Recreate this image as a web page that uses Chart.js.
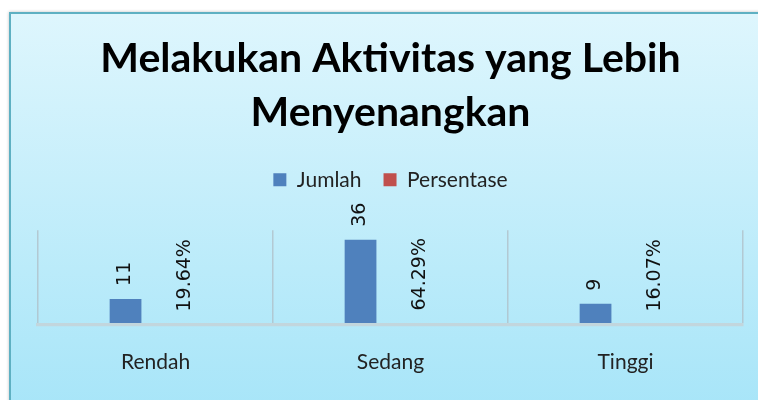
<html>
<head>
<style>
body {
    margin: 0;
    background-color: white;
    overflow: hidden;
}
div.chart-frame {
    position: absolute;
    left: 9px;
    top: 12px;
    width: 790px;
    height: 420px;
    border: 2.5px solid #5eb0c2;
    box-shadow: 0px 0px 3px rgba(0,0,0,0.25);
    background: linear-gradient(#def6fd, #a4e4f8);
}
canvas#myChart {
    position: absolute;
    left: 0;
    top: 0;
}
</style>
<script src="https://cdn.jsdelivr.net/npm/chart.js"></script>
</head>
<body>
<div class="chart-frame"></div>
<canvas id="myChart" width="780" height="400"></canvas>

<script>
const chartTitle = ['Melakukan Aktivitas yang Lebih', 'Menyenangkan'];
const categories = ['Rendah', 'Sedang', 'Tinggi'];
const jumlah = [11, 36, 9];
const persentase = [0.1964, 0.6429, 0.1607];

// labels on top of the bars, turned upright like in excel
const valueLabels = {
    id: 'valueLabels',
    afterDatasetsDraw(chart) {
        const ctx = chart.ctx;
        chart.data.datasets.forEach((ds, i) => {
            const meta = chart.getDatasetMeta(i);
            meta.data.forEach((bar, j) => {
                let text = ds.data[j];
                if (i == 1) text = (ds.data[j] * 100).toFixed(2) + '%';
                ctx.save();
                ctx.translate(bar.x, bar.y - 13);
                ctx.rotate(-Math.PI / 2);
                ctx.font = '19px "DejaVu Sans"';
                ctx.fillStyle = '#111';
                ctx.textAlign = 'left';
                ctx.textBaseline = 'middle';
                ctx.fillText('' + text, 0, 0);
                ctx.restore();
            });
        });
    }
};

const config = {
    type: 'bar',
    data: {
        labels: categories,
        datasets: [{
            label: 'Jumlah',
            backgroundColor: '#4f81bd',
            data: jumlah,
            categoryPercentage: 0.51,
            barPercentage: 0.53
        }, {
            label: 'Persentase',
            backgroundColor: '#c0504d',
            data: persentase,
            categoryPercentage: 0.51,
            barPercentage: 0.53
        }]
    },
    options: {
        responsive: false,
        animation: false,
        devicePixelRatio: 1,
        events: [],
        layout: {
            padding: {left: 38, right: 37, top: 0, bottom: 0}
        },
        plugins: {
            title: {
                display: true,
                text: chartTitle,
                color: '#000',
                font: {family: 'Lato', size: 41, weight: 'bold', lineHeight: 1.32},
                padding: {top: 32, bottom: 7}
            },
            legend: {
                display: true,
                labels: {
                    color: '#222',
                    font: {family: 'Lato', size: 21},
                    boxWidth: 13,
                    boxHeight: 13,
                    padding: 22
                }
            },
            // empty subtitle only used as a gap under the legend
            subtitle: {
                display: true,
                text: '',
                weight: 999,
                font: {size: 10, lineHeight: 1},
                padding: {top: 20, bottom: 0}
            },
            tooltip: {enabled: false}
        },
        scales: {
            x: {
                grid: {
                    color: 'rgba(175,190,198,0.75)',
                    lineWidth: 1.5,
                    drawTicks: false
                },
                // drawn above the bars so the tiny percent bars hide under it
                border: {
                    display: true,
                    color: '#c2d6dd',
                    width: 3.2,
                    z: 1
                },
                ticks: {
                    color: '#222',
                    font: {family: 'Lato', size: 21, lineHeight: 1},
                    padding: 27
                }
            },
            y: {
                display: false,
                min: 0,
                max: 40
            }
        }
    },
    plugins: [valueLabels]
};

const myChart = new Chart(document.getElementById('myChart'), config);
</script>
</body>
</html>
